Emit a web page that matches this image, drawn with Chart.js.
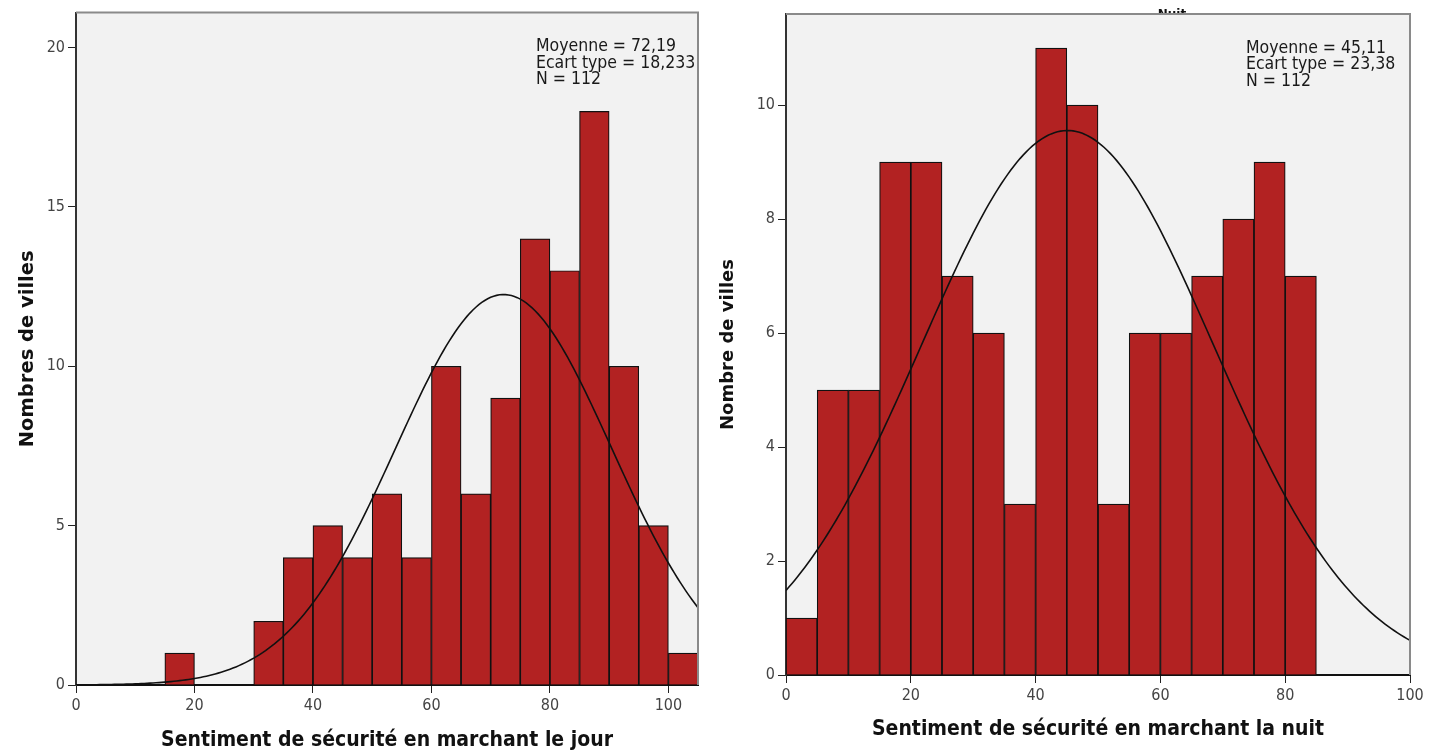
<!DOCTYPE html>
<html>
<head>
<meta charset="utf-8">
<script src="https://cdn.jsdelivr.net/npm/chart.js@4.4.1/dist/chart.umd.min.js"></script>
<style>
  html, body { margin: 0; padding: 0; background: #fff; }
  #wrap { position: relative; width: 1439px; height: 755px; overflow: hidden; }
  canvas { position: absolute; top: 0; }
  #histoJour { left: 0; }
  #histoNuit { left: 710px; }
</style>
</head>
<body>
<div id="wrap">
  <canvas id="histoJour" width="720" height="755"></canvas>
  <canvas id="histoNuit" width="729" height="755"></canvas>
</div>
<script>
// classes de 5 points : borne basse de chaque classe et effectifs
const classesJour = [15, 30, 35, 40, 45, 50, 55, 60, 65, 70, 75, 80, 85, 90, 95, 100];
const effectifsJour = [1, 2, 4, 5, 4, 6, 4, 10, 6, 9, 14, 13, 18, 10, 5, 1];
const classesNuit = [0, 5, 10, 15, 20, 25, 30, 35, 40, 45, 50, 55, 60, 65, 70, 75, 80];
const effectifsNuit = [1, 5, 5, 9, 9, 7, 6, 3, 11, 10, 3, 6, 6, 7, 8, 9, 7];
const largeurClasse = 5;

// statistiques affichees
const moyenneJour = 72.19, ecartJour = 18.233, nJour = 112;
const moyenneNuit = 45.11, ecartNuit = 23.38, nNuit = 112;

// graduations
const xTicksJour = [0, 20, 40, 60, 80, 100];
const yTicksJour = [0, 5, 10, 15, 20];
const xTicksNuit = [0, 20, 40, 60, 80, 100];
const yTicksNuit = [0, 2, 4, 6, 8, 10];

const ROUGE = '#b22222';
const FONT_TICK = '"DejaVu Sans Condensed", "Liberation Sans Narrow", sans-serif';
const FONT_TITRE = '"DejaVu Sans", sans-serif';

// courbe normale superposee (effectif * largeur de classe * densite)
function courbeNormale(moy, et, n, xmin, xmax) {
  const pts = [];
  const k = n * largeurClasse / (et * Math.sqrt(2 * Math.PI));
  for (let x = xmin; x <= xmax + 1e-9; x += 0.5) {
    pts.push({ x: x, y: k * Math.exp(-((x - moy) ** 2) / (2 * et * et)) });
  }
  return pts;
}

const fmt = v => String(v).replace('.', ',');

// fond gris, cadre et encart des statistiques
const cadre = {
  id: 'cadre',
  beforeDraw(chart) {
    const { ctx, chartArea: a } = chart;
    ctx.save();
    ctx.fillStyle = '#f2f2f2';
    ctx.fillRect(a.left, a.top, a.right - a.left, a.bottom - a.top);
    ctx.restore();
  },
  afterDraw(chart, args, opts) {
    const { ctx, chartArea: a } = chart;
    ctx.save();
    if (opts.surTitre) {
      ctx.beginPath();
      ctx.rect(a.left, 0, a.right - a.left, a.top);
      ctx.clip();
      ctx.fillStyle = '#111';
      ctx.font = 'bold 12px ' + FONT_TITRE;
      ctx.textAlign = 'center';
      ctx.textBaseline = 'alphabetic';
      ctx.fillText(opts.surTitre, a.left + 386, a.top + 4);
    }
    ctx.restore();
    ctx.save();
    ctx.strokeStyle = '#8a8a8a';
    ctx.lineWidth = 2;
    ctx.beginPath();
    ctx.moveTo(a.left, a.top);
    ctx.lineTo(a.right, a.top);
    ctx.lineTo(a.right, a.bottom);
    ctx.stroke();
    ctx.fillStyle = '#1a1a1a';
    ctx.font = '17.5px ' + FONT_TICK;
    ctx.textAlign = 'left';
    ctx.textBaseline = 'middle';
    opts.lignes.forEach((t, i) => ctx.fillText(t, a.left + 460, a.top + 34 + i * 16.5));
    ctx.restore();
  }
};

function histogramme(id, classes, effectifs, moy, et, n, xMax, yMax, xTicks, yTicks,
                     titreX, titreY, geom) {
  return new Chart(document.getElementById(id), {
    type: 'bar',
    data: {
      datasets: [
        {
          type: 'line',
          data: courbeNormale(moy, et, n, 0, xMax),
          borderColor: '#111',
          borderWidth: 1.6,
          pointRadius: 0,
          tension: 0,
          order: 0
        },
        {
          type: 'bar',
          data: classes.map((c, i) => ({ x: c + largeurClasse / 2, y: effectifs[i] })),
          backgroundColor: ROUGE,
          borderColor: '#111',
          borderWidth: 1.2,
          barPercentage: 1,
          categoryPercentage: 1,
          order: 1
        }
      ]
    },
    options: {
      responsive: false,
      animation: false,
      events: [],
      layout: { padding: { top: geom.top, right: geom.right, left: 0, bottom: 0 } },
      plugins: {
        legend: { display: false },
        tooltip: { enabled: false },
        cadre: {
          lignes: ['Moyenne = ' + fmt(moy), 'Ecart type = ' + fmt(et), 'N = ' + n],
          surTitre: geom.surTitre
        }
      },
      scales: {
        x: {
          type: 'linear',
          min: 0,
          max: xMax,
          offset: false,
          afterBuildTicks: s => { s.ticks = xTicks.map(v => ({ value: v })); },
          afterFit: s => { s.height = geom.hauteurX; },
          grid: { offset: false, drawOnChartArea: false, drawTicks: true, tickLength: 8, color: '#222', lineWidth: 1 },
          border: { color: '#111', width: 2 },
          ticks: { color: '#444', padding: 3, font: { family: FONT_TICK, size: 16 }, maxRotation: 0 },
          title: {
            display: true,
            text: titreX,
            color: '#111',
            font: { family: FONT_TICK, size: 21, weight: 'bold' },
            padding: { top: 0, bottom: geom.padTitreX }
          }
        },
        y: {
          min: 0,
          max: yMax,
          afterBuildTicks: s => { s.ticks = yTicks.map(v => ({ value: v })); },
          afterFit: s => { s.width = 76; },
          grid: { drawOnChartArea: false, drawTicks: true, tickLength: 8, color: '#222', lineWidth: 1 },
          border: { color: '#333', width: 2 },
          ticks: { color: '#444', padding: 3, font: { family: FONT_TICK, size: 16 } },
          title: {
            display: true,
            text: titreY,
            color: '#111',
            font: { family: FONT_TITRE, size: geom.tailleTitreY, weight: 'bold' },
            padding: { top: geom.padTitreY, bottom: 0 }
          }
        }
      }
    },
    plugins: [cadre]
  });
}

histogramme('histoJour', classesJour, effectifsJour, moyenneJour, ecartJour, nJour,
  105, 21.1, xTicksJour, yTicksJour,
  'Sentiment de sécurité en marchant le jour', 'Nombres de villes',
  { top: 10, right: 22, hauteurX: 70, padTitreX: 2, padTitreY: 16, tailleTitreY: 19.5 });

histogramme('histoNuit', classesNuit, effectifsNuit, moyenneNuit, ecartNuit, nNuit,
  100, 11.6, xTicksNuit, yTicksNuit,
  'Sentiment de sécurité en marchant la nuit', 'Nombre de villes',
  { top: 14, right: 29, hauteurX: 80, padTitreX: 13, padTitreY: 8, tailleTitreY: 18, surTitre: 'Nuit' });
</script>
</body>
</html>
